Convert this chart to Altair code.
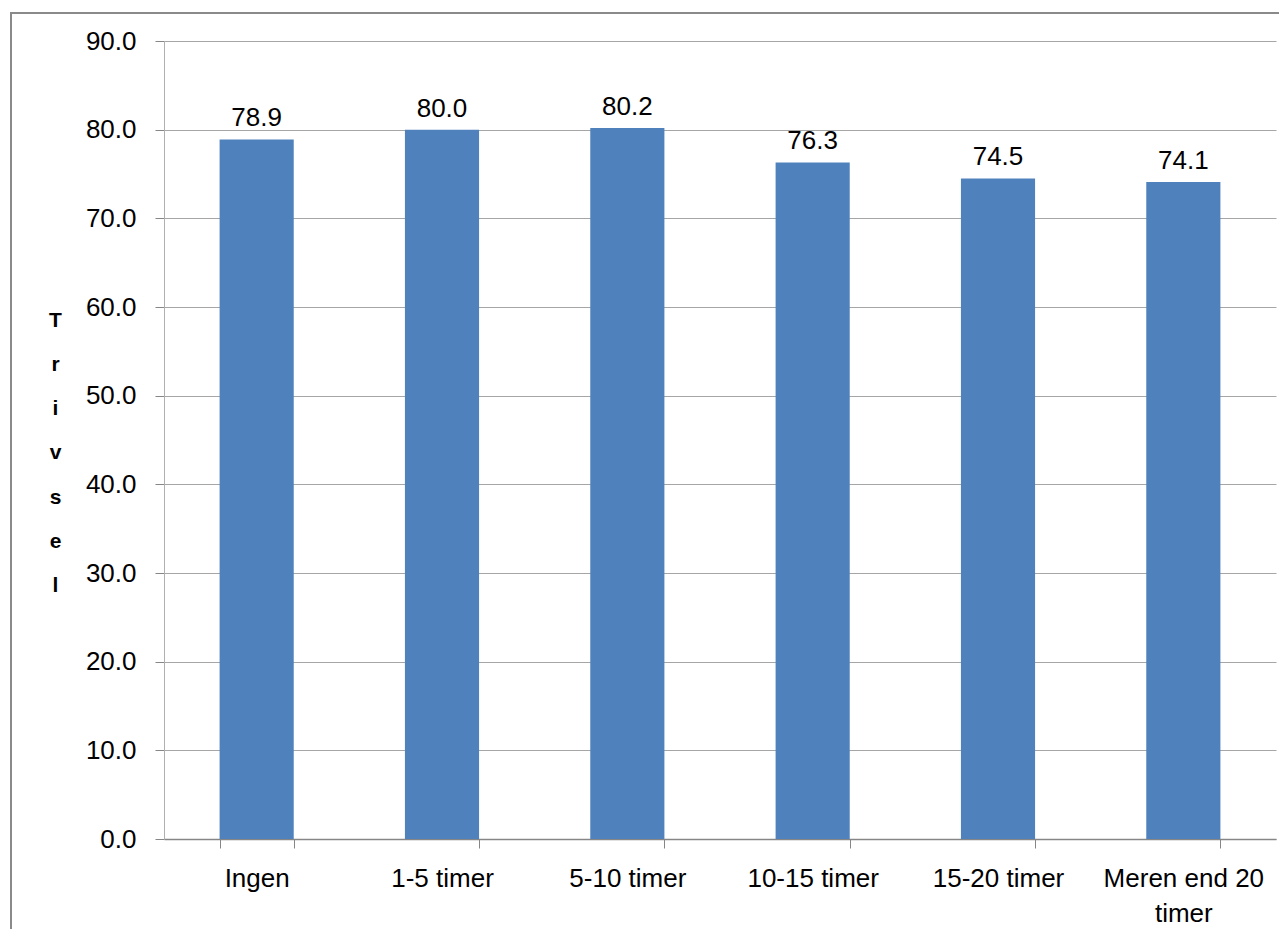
import altair as alt
import pandas as pd

categories = ["Ingen", "1-5 timer", "5-10 timer", "10-15 timer", "15-20 timer", "Meren end 20 timer"]
values = [78.9, 80.0, 80.2, 76.3, 74.5, 74.1]
y_ticks = [0, 10, 20, 30, 40, 50, 60, 70, 80, 90]
y_title = ["T", "r", "i", "v", "s", "e", "l"]

df = pd.DataFrame({"cat": categories, "val": values})

FONT = "Liberation Sans"
W, H = 1112, 798

x_enc = alt.X(
    "cat:N", sort=categories, title=None,
    scale=alt.Scale(paddingInner=0.6, paddingOuter=0.3),
    axis=alt.Axis(
        labelAngle=0, labelFontSize=26, labelFont=FONT, labelColor="#000000",
        labelPadding=17, labelLineHeight=35,
        labelExpr="datum.label == 'Meren end 20 timer' ? ['Meren end 20', 'timer'] : datum.label",
        tickBand="extent", tickSize=9, tickColor="#868686", domainColor="#868686",
        domainWidth=1.5, grid=False, labelLimit=400,
    ),
)
y_enc = alt.Y(
    "val:Q",
    scale=alt.Scale(domain=[0, 90], nice=False),
    axis=alt.Axis(
        values=y_ticks, format=".1f", labelFontSize=26, labelFont=FONT, labelColor="#000000",
        labelPadding=19, tickSize=9, tickColor="#868686", domainColor="#b0b0b0",
        gridColor="#a6a6a6", gridWidth=1,
        title=y_title, titleAngle=0, titleFont=FONT, titleFontSize=21, titleFontWeight="bold",
        titleColor="#000000", titleLineHeight=44.3, titleAlign="center", titleBaseline="top",
        titleX=-109, titleY=268,
    ),
)

bars = alt.Chart(df).mark_bar(color="#4F81BD").encode(x=x_enc, y=y_enc)
labels = alt.Chart(df).mark_text(
    baseline="alphabetic", dy=-13, fontSize=26, font=FONT, color="#000000"
).encode(x=alt.X("cat:N", sort=categories), y="val:Q", text=alt.Text("val:Q", format=".1f"))

frame = alt.Chart(alt.Data(values=[{}])).mark_rect(
    fill=None, stroke="#8a8a8a", strokeWidth=2
).encode(x=alt.value(-153), y=alt.value(-28), x2=alt.value(1300), y2=alt.value(1000))

chart = alt.layer(frame, bars, labels).properties(
    width=W, height=H,
    autosize=alt.AutoSizeParams(type="none"),
    padding={"left": 156, "top": 33, "right": 3, "bottom": 90},
).configure_view(stroke=None)

chart.save("out.html", embed_options={"renderer": "svg", "actions": False})
